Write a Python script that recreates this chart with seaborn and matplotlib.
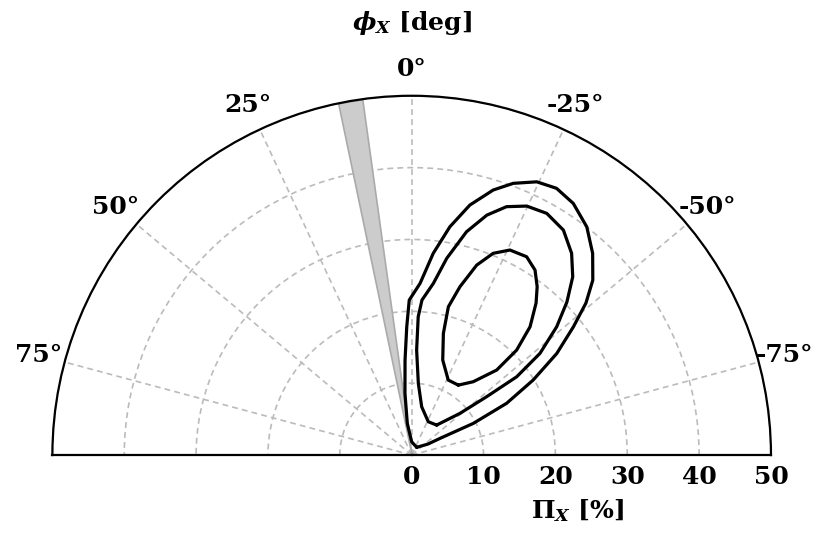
"""Polarisation constraints in the (Pi_X, phi_X) half-plane"""
import numpy as np
import pandas as pd
import seaborn as sns
import matplotlib.pyplot as plt

# contour levels: angle phi [deg], degree Pi [%]
inner_phi = [-33.7, -26.0, -18.1, -14.6, -13.9, -16.0, -18.9, -22.0, -25.6, -30.1,
             -33.7, -36.7, -39.3, -42.7, -45.0, -45.0, -40.0]
inner_pi = [11.70, 11.61, 13.91, 17.50, 21.26, 24.37, 27.94, 30.28, 31.64, 31.90,
            30.94, 29.22, 27.33, 24.29, 20.66, 16.73, 13.32]

middle_phi = [-39.8, -26.5, -11.7, -5.3, -2.7, -2.7, -3.8, -7.2, -10.1, -13.8, -17.4,
              -20.9, -24.8, -29.2, -34.0, -38.4, -42.1, -45.4, -48.5, -51.6, -53.3,
              -52.1, -49.2]
middle_pi = [5.43, 5.18, 6.86, 10.02, 14.63, 19.27, 21.62, 24.08, 27.80, 32.00, 34.99,
             37.00, 38.17, 38.53, 37.76, 35.83, 33.43, 30.34, 26.94, 22.78, 18.23,
             13.22, 8.88]

outer_phi = [-33.0, 0.0, 7.9, 6.2, 4.0, 2.2, 0.9, -2.8, -6.1, -9.5, -13.1, -17.1,
             -20.5, -24.6, -28.5, -32.7, -37.5, -41.9, -46.0, -48.9, -51.6, -55.0,
             -58.3, -61.4, -62.8, -59.5, -56.0]
outer_pi = [1.28, 1.85, 4.45, 8.64, 13.25, 17.87, 21.57, 23.92, 28.23, 32.21, 35.72, 38.59,
            40.37, 41.82, 42.24, 41.62, 40.03, 37.71, 35.04, 32.18, 28.71, 24.65,
            19.88, 15.05, 9.64, 4.57, 2.74]

# excluded angle band [deg]
band_phi = [7.9, 11.8]

theta_ticks = [-75, -50, -25, 0, 25, 50, 75]
theta_labels = [f"{t}°" for t in theta_ticks]
r_ticks = [0, 10, 20, 30, 40, 50]

rows = []
for name, phis, pis in [("inner", inner_phi, inner_pi),
                        ("middle", middle_phi, middle_pi),
                        ("outer", outer_phi, outer_pi)]:
    # close each loop on its first point
    for p, r in zip(phis + phis[:1], pis + pis[:1]):
        rows.append({"level": name, "theta": np.deg2rad(p), "r": r})
df = pd.DataFrame(rows)

sns.set_theme(style="white")
plt.rcParams["font.family"] = ["DejaVu Serif"]
plt.rcParams["font.weight"] = "bold"
plt.rcParams["font.size"] = 18
plt.rcParams["xtick.labelsize"] = 18
plt.rcParams["ytick.labelsize"] = 18
for key in ["text.color", "xtick.color", "ytick.color", "axes.labelcolor"]:
    plt.rcParams[key] = "black"
plt.rcParams["mathtext.fontset"] = "custom"
plt.rcParams["mathtext.rm"] = "DejaVu Serif:bold"
plt.rcParams["mathtext.it"] = "DejaVu Serif:italic:bold"
plt.rcParams["mathtext.bf"] = "DejaVu Serif:bold"

fig = plt.figure(figsize=(8.29, 5.34), dpi=100)
# square box: the half disc sits in its middle
ax = fig.add_axes([0.0632, -0.1886, 0.8668, 1.3457], projection="polar")
ax.set_theta_zero_location("N")
ax.set_thetamin(-90)
ax.set_thetamax(90)

ax.fill_between(np.deg2rad(band_phi), 0, r_ticks[-1], facecolor="#cccccc",
                edgecolor="#aaaaaa", linewidth=1.2, zorder=2)

sns.lineplot(data=df, x="theta", y="r", units="level", estimator=None, sort=False,
             color="black", linewidth=2.3, solid_joinstyle="round",
             solid_capstyle="round", ax=ax, zorder=3)

ax.set_rlim(0, r_ticks[-1])
ax.set_rgrids(r_ticks, labels=[str(r) for r in r_ticks])
ax.set_thetagrids(theta_ticks, labels=theta_labels)
ax.grid(True, color="#bbbbbb", linestyle=(0, (3.5, 2.5)), linewidth=1.2)
ax.tick_params(axis="x", pad=6.5)
ax.tick_params(axis="y", pad=1.5)
for sp in ax.spines.values():
    sp.set_color("black")
    sp.set_linewidth(1.6)

ax.set_xlabel("")
ax.set_ylabel("")
fig.text(0.497, 0.957, r"$\phi_X$ [deg]", ha="center", va="center", fontsize=18, fontweight="bold")
fig.text(0.697, 0.043, r"$\Pi_X$ [%]", ha="center", va="center", fontsize=18, fontweight="bold")

fig.savefig("out.png", dpi=100)
